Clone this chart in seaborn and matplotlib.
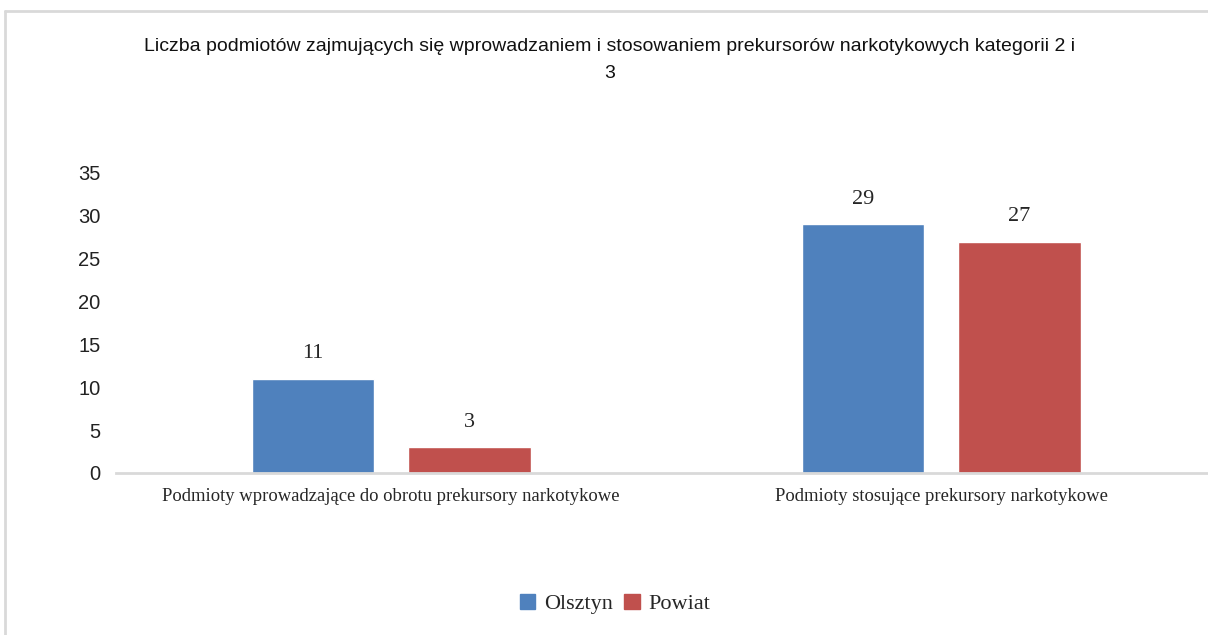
import numpy as np
import pandas as pd
import seaborn as sns
import matplotlib.pyplot as plt
from matplotlib.lines import Line2D

categories = ["Podmioty wprowadzające do obrotu prekursory narkotykowe",
              "Podmioty stosujące prekursory narkotykowe"]
series = ["Olsztyn", "Powiat"]
olsztyn = [11, 29]
powiat = [3, 27]
colors = ["#4F81BD", "#C0504D"]
title = "Liczba podmiotów zajmujących się wprowadzaniem i stosowaniem prekursorów narkotykowych kategorii 2 i\n3"

df = pd.DataFrame({
    "kategoria": categories * 2,
    "seria": [series[0]] * 2 + [series[1]] * 2,
    "wartosc": olsztyn + powiat,
})

sns.set_style("white")
fig = plt.figure(figsize=(12.08, 6.35), dpi=100)
ax = fig.add_axes([116 / 1208, 1 - 473 / 635, 1 - 116 / 1208, 300 / 635])

sns.barplot(data=df, x="kategoria", y="wartosc", hue="seria", palette=colors,
            width=0.57, gap=0.22, ax=ax, legend=False, saturation=1)

ax.set_ylim(0, 35)
ax.set_xlim(-0.5, 1.485)
ax.set_yticks(range(0, 36, 5))
ax.set_xlabel("")
ax.set_ylabel("")
for s in ["top", "right", "left"]:
    ax.spines[s].set_visible(False)
ax.spines["bottom"].set_color("#D9D9D9")
ax.spines["bottom"].set_linewidth(2)
ax.tick_params(axis="y", length=0, pad=11, labelsize=14.5, labelcolor="#222222")
ax.tick_params(axis="x", length=0, pad=11)
for lab in ax.get_yticklabels():
    lab.set_fontfamily("Liberation Sans")
for lab in ax.get_xticklabels():
    lab.set_fontfamily("Liberation Serif")
    lab.set_fontsize(13.4)

for cont in ax.containers:
    ax.bar_label(cont, padding=11, fontsize=16, family="Liberation Serif")

fig.text(0.505, 1 - 60 / 635, title, ha="center", va="center", fontsize=14,
         family="Liberation Sans", linespacing=1.7, color="#111111")

handles = [plt.Rectangle((0, 0), 1, 1, color=c) for c in colors]
fig.legend(handles, series, loc="center", bbox_to_anchor=(615 / 1208, 1 - 604 / 635),
           ncol=2, frameon=False, prop={"family": "Liberation Serif", "size": 16},
           handlelength=0.7, handleheight=0.7, handletextpad=0.4, columnspacing=0.5)

fig.add_artist(Line2D([5 / 1208, 1], [1 - 11 / 635] * 2, color="#D9D9D9", lw=2))
fig.add_artist(Line2D([5 / 1208] * 2, [0, 1 - 11 / 635], color="#D9D9D9", lw=2))

fig.savefig("out.png", dpi=100)
